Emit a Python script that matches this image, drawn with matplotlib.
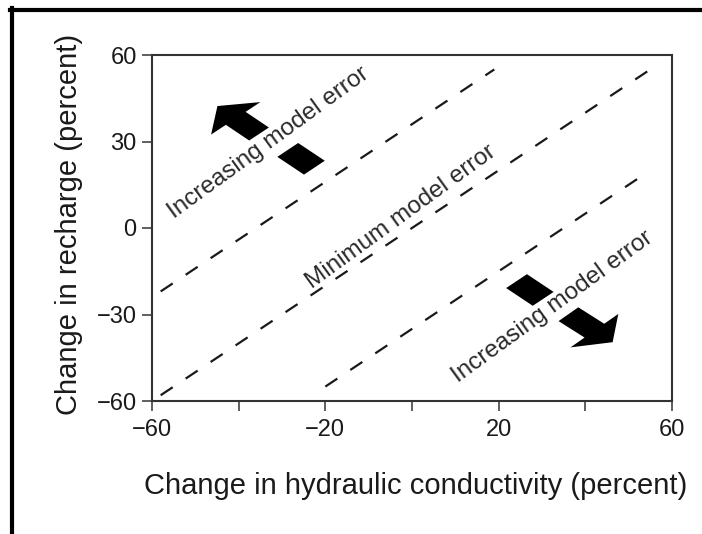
import matplotlib
matplotlib.use("Agg")
import matplotlib.pyplot as plt
from matplotlib.lines import Line2D
from matplotlib.patches import FancyArrow, Rectangle

plt.rcParams['font.family'] = ['Liberation Sans', 'DejaVu Sans']

# dashed reference lines: y = x + offset, drawn between x_start and x_end
line_offsets = [36, 0, -35]
line_x_start = [-58, -58, -20]
line_x_end = [19, 57, 54]

# rotated labels along the bands
band_labels = ["Increasing model error", "Minimum model error", "Increasing model error"]
band_label_x = [-33, -2.5, 32.5]
band_label_y = [29.5, 4, -27.5]

xticks = [-60, -40, -20, 0, 20, 40, 60]
xtick_labels = ["\u221260", "", "\u221220", "", "20", "", "60"]
yticks = [-60, -30, 0, 30, 60]
ytick_labels = ["\u221260", "\u221230", "0", "30", "60"]

ink = "#1a1a1a"

fig = plt.figure(figsize=(7.02, 5.34), dpi=100)
ax = fig.add_axes([152 / 702, 1 - 401 / 534, 520 / 702, 346 / 534])

for off, x0, x1 in zip(line_offsets, line_x_start, line_x_end):
    ax.plot([x0, x1], [x0 + off, x1 + off], color=ink, lw=1.6,
            linestyle=(0, (6.5, 7)))

for txt, tx, ty in zip(band_labels, band_label_x, band_label_y):
    ax.text(tx, ty, txt, rotation=36, ha="center", va="center",
            fontsize=17.5, color="#2a2a2a", rotation_mode="anchor")

# arrows (drawn in data space, so they stretch with the axes like the original)
ax.add_patch(FancyArrow(-35.3, 32.6, -9.6, 9.7, width=6.4, head_width=16,
                        head_length=6, length_includes_head=True,
                        color="black", lw=0))
ax.add_patch(FancyArrow(36.1, -29.9, 10.2, -9.7, width=6.6, head_width=16,
                        head_length=5.8, length_includes_head=True,
                        color="black", lw=0))
for cx, cy in [(-25.6, 24.0), (27.2, -21.5)]:
    ax.add_patch(Rectangle((cx - 4.35, cy - 3.4), 8.7, 6.8, angle=-45,
                           rotation_point="center", color="black", lw=0))

ax.set_xlim(-60, 60)
ax.set_ylim(-60, 60)
ax.set_xticks(xticks)
ax.set_xticklabels(xtick_labels)
ax.set_yticks(yticks)
ax.set_yticklabels(ytick_labels)
ax.tick_params(axis="x", direction="out", length=7, width=1.2, pad=6,
               labelsize=17, colors="#444444", labelcolor=ink)
ax.tick_params(axis="y", direction="out", length=7, width=1.2, pad=4,
               labelsize=17, colors="#444444", labelcolor=ink)
for s in ax.spines.values():
    s.set_color("#333333")
    s.set_linewidth(1.5)

fig.text(416 / 702, 1 - 486 / 534, "Change in hydraulic conductivity (percent)",
         ha="center", va="center", fontsize=21, color=ink)
fig.text(69 / 702, 1 - 224 / 534, "Change in recharge (percent)",
         ha="center", va="center", fontsize=21, rotation=90, color=ink)

# black frame on the top and left edges
fig.add_artist(Line2D([10 / 702, 1], [1 - 10 / 534, 1 - 10 / 534],
                      color="black", lw=3, transform=fig.transFigure))
fig.add_artist(Line2D([12 / 702, 12 / 702], [0, 1 - 8 / 534],
                      color="black", lw=3, transform=fig.transFigure))

fig.savefig("out.png", dpi=100)
